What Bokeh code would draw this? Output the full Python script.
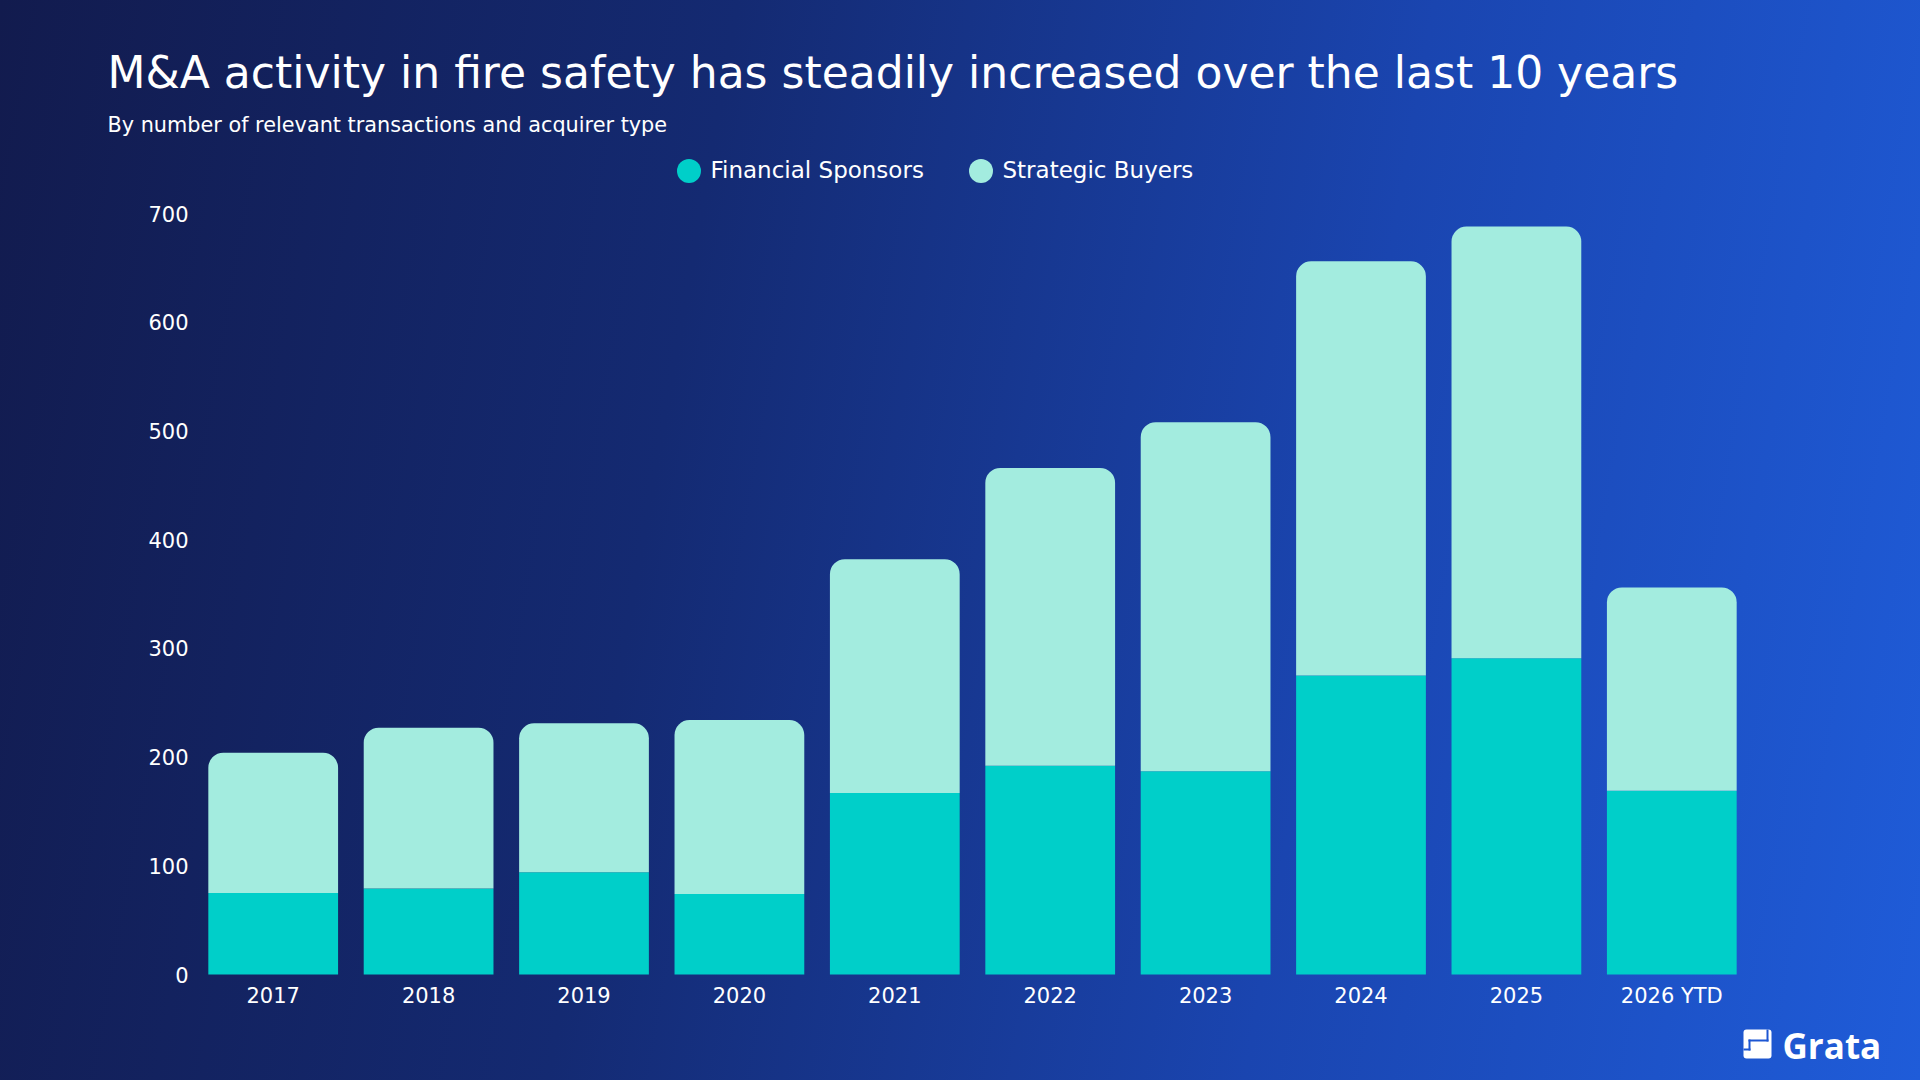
from bokeh.plotting import figure
from bokeh.models import (ColumnDataSource, Range1d, FixedTicker, Label, BoxAnnotation)
from bokeh.embed import file_html
from bokeh.resources import INLINE

# data
years = ["2017", "2018", "2019", "2020", "2021", "2022", "2023", "2024", "2025", "2026 YTD"]
financial_sponsors = [75, 79, 94, 74, 167, 192, 187, 275, 291, 169]
strategic_buyers = [129, 148, 137, 160, 215, 274, 321, 381, 397, 187]
y_ticks = [0, 100, 200, 300, 400, 500, 600, 700]

title_text = "M&A activity in fire safety has steadily increased over the last 10 years"
subtitle_text = "By number of relevant transactions and acquirer type"

FS_COLOR = "#00CFC9"
SB_COLOR = "#A3ECDF"
LOGO_BLUE = "#1d56d2"
FONT = "DejaVu Sans"
LOGO_FONT = "Open Sans"

W, H = 1920, 1080
# plot area of the bars in pixels: x 195..1749 for the 10 slots, y=0 at 974, 700 at 213
left_px, slot_px = 195, 155.4
zero_px, unit_px = 974, 761 / 700

xs = [i + 0.5 for i in range(len(years))]
totals = [f + s for f, s in zip(financial_sponsors, strategic_buyers)]
source = ColumnDataSource(dict(x=xs, fs=financial_sponsors, sb=strategic_buyers, total=totals))

# the frame covers the whole canvas (axes are pinned with fixed_location),
# so header, legend and logo annotations are not clipped
x_range = Range1d(-left_px / slot_px, (W - left_px) / slot_px)
y_range = Range1d(-(H - zero_px) / unit_px, zero_px / unit_px)

p = figure(x_range=x_range, y_range=y_range, width=W, height=H,
           output_backend="svg", toolbar_location=None, min_border=0)

# gradient background via css, canvas stays transparent
p.styles = {"background": "linear-gradient(100deg, #121b4e 0%, #142a72 35%, #1a45b0 68%, #1f5cd9 100%)"}
p.background_fill_alpha = 0
p.border_fill_alpha = 0
p.outline_line_color = None
p.grid.visible = False

# stacked bars, rounded top on the upper segment
p.vbar(x="x", bottom=0, top="fs", width=0.835, source=source,
       fill_color=FS_COLOR, line_color=None)
p.vbar(x="x", bottom="fs", top="total", width=0.835, source=source,
       fill_color=SB_COLOR, line_color=None, border_radius=(15, 15, 0, 0))

# axes
p.xaxis.ticker = FixedTicker(ticks=xs)
p.xaxis.major_label_overrides = {x: y for x, y in zip(xs, years)}
p.xaxis.fixed_location = 0
p.yaxis.ticker = FixedTicker(ticks=y_ticks)
p.yaxis.fixed_location = 0
for ax in (p.xaxis, p.yaxis):
    ax.axis_line_color = None
    ax.major_tick_line_color = None
    ax.minor_tick_line_color = None
    ax.major_tick_in = 0
    ax.major_tick_out = 0
    ax.major_label_text_color = "white"
    ax.major_label_text_font = FONT
    ax.major_label_text_font_size = "21px"
p.yaxis.major_label_standoff = 7
p.xaxis.major_label_standoff = 9


def screen_box(left, right, bottom, top, color, radius=0):
    p.add_layout(BoxAnnotation(left=left, right=right, bottom=bottom, top=top,
                               left_units="screen", right_units="screen",
                               top_units="screen", bottom_units="screen",
                               fill_color=color, fill_alpha=1, line_color=None,
                               border_radius=radius))


def screen_text(x, y, text, size, font=FONT, style="normal"):
    # y is the vertical middle of the text, from the bottom of the canvas
    p.add_layout(Label(x=x, y=y, x_units="screen", y_units="screen", text=text,
                       text_font=font, text_font_size=size, text_font_style=style,
                       text_color="white", text_baseline="middle"))


# title and subtitle
screen_text(107, 1008.5, title_text, "44px")
screen_text(107, 955.5, subtitle_text, "20.8px")

# legend: round dots + labels
for cx, color, name in [(688.5, FS_COLOR, "Financial Sponsors"), (980.5, SB_COLOR, "Strategic Buyers")]:
    screen_box(cx - 12, cx + 12, 909.5 - 12, 909.5 + 12, color, 12)
    screen_text(cx + 21.5, 911, name, "23px")

# Grata logo, bottom right
screen_box(1743, 1771, 22, 51, "white", 3)
screen_box(1766, 1768, 39, 51, LOGO_BLUE)
screen_box(1748, 1768, 39, 41, LOGO_BLUE)
screen_box(1748, 1750, 30, 41, LOGO_BLUE)
screen_box(1743, 1750, 30, 32, LOGO_BLUE)
screen_text(1782, 35.5, "Grata", "35px", LOGO_FONT, "bold")

open("out.html", "w").write(file_html(p, INLINE))
